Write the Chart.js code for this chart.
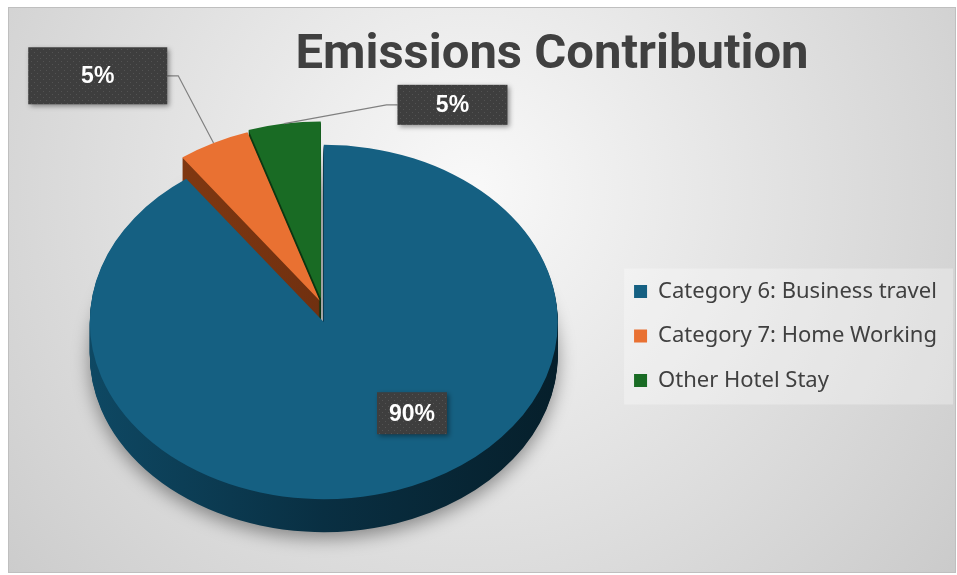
<!DOCTYPE html>
<html>
<head>
<meta charset="utf-8">
<script src="https://cdn.jsdelivr.net/npm/chart.js@4.4.1/dist/chart.umd.min.js"></script>
<style>
  html, body { margin: 0; padding: 0; background: #fff; }
  #wrap { width: 957px; height: 575px; }
</style>
</head>
<body>
<div id="wrap"><canvas id="emissions"></canvas></div>
<script>
const categories = ['Category 6: Business travel', 'Category 7: Home Working', 'Other Hotel Stay'];
const shares = [90, 5, 5];
const percentLabels = ['90%', '5%', '5%'];
const chartTitle = 'Emissions Contribution';

// look of the 3d pie
const topColours = ['#156082', '#e97132', '#196b24'];
const sideColours = [['#0e4863', '#092f42', '#061f2b'], ['#8a3d12', '#703010', '#5a260a'], ['#0f4416', '#0b3410', '#08290c']];
const explodeBy = [[0, 0], [-4, -28], [-3, -31]];  // pulled-out slices (x, y before tilt)
const tilt = 0.757;            // vertical squash
const depth = 33;              // edge thickness
const lift = -14;              // pie sits a bit higher than the legend middle
// data label boxes: centre relative to pie centre (radius units) and size in px
const labelPos = [[0.377, 0.515], [-0.966, -1.39], [0.55, -1.226]];
const labelBox = [[70, 42], [139, 57], [110, 40]];

function paintArc(ctx, arc, fill) {
    const copy = Object.assign(Object.create(Chart.ArcElement.prototype),
        arc.getProps(['x', 'y', 'startAngle', 'endAngle', 'innerRadius', 'outerRadius', 'circumference'], true));
    copy.options = Object.assign({}, arc.options, { backgroundColor: fill, borderWidth: 0, offset: 0 });
    copy.draw(ctx);
}

function dotPattern(ctx) {
    const c = document.createElement('canvas');
    c.width = 6; c.height = 6;
    const p = c.getContext('2d');
    p.fillStyle = '#3e3e3e';
    p.fillRect(0, 0, 6, 6);
    p.fillStyle = '#535353';
    p.fillRect(1, 1, 1, 1);
    p.fillRect(4, 4, 1, 1);
    return ctx.createPattern(c, 'repeat');
}

const backdrop = {
    id: 'backdrop',
    beforeDraw(chart) {
        const { ctx, width, height } = chart;
        ctx.save();
        ctx.fillStyle = '#ffffff';
        ctx.fillRect(0, 0, width, height);
        const g = ctx.createRadialGradient(470, 190, 0, 470, 190, 640);
        g.addColorStop(0, '#f9f9f9');
        g.addColorStop(1, '#c9c9c9');
        ctx.fillStyle = g;
        ctx.fillRect(8.5, 7.5, width - 10, height - 10);
        ctx.strokeStyle = '#bfbfbf';
        ctx.lineWidth = 1;
        ctx.strokeRect(8.5, 7.5, width - 10, height - 10);

        // pale panel behind the legend
        const boxes = chart.legend.legendHitBoxes;
        const l = Math.min(...boxes.map(b => b.left)) - 10;
        const t = Math.min(...boxes.map(b => b.top)) - 12;
        const r = Math.max(...boxes.map(b => b.left + b.width)) + 16;
        const b = Math.max(...boxes.map(b => b.top + b.height)) + 13;
        ctx.fillStyle = 'rgba(255,255,255,0.3)';
        ctx.fillRect(l, t, r - l, b - t);

        ctx.fillStyle = '#404040';
        ctx.font = 'bold 49px Roboto';
        ctx.textAlign = 'center';
        ctx.textBaseline = 'middle';
        ctx.fillText(chartTitle, 552, 56);
        ctx.restore();
    }
};

const pie3d = {
    id: 'pie3d',
    beforeDatasetsDraw(chart) {
        const ctx = chart.ctx;
        const arcs = chart.getDatasetMeta(0).data;
        const cx = arcs[0].x, cy = arcs[0].y, R = arcs[0].outerRadius;
        const place = (i, down) => {
            ctx.translate(cx, cy + lift + down);
            ctx.scale(1, tilt);
            ctx.translate(-cx, -cy);
            ctx.translate(explodeBy[i][0], explodeBy[i][1]);
        };
        // edge, stacked from the bottom up
        for (let d = depth; d >= 1; d--) {
            arcs.forEach((arc, i) => {
                ctx.save();
                if (d === depth) {
                    ctx.shadowColor = 'rgba(0,0,0,0.4)';
                    ctx.shadowBlur = 18;
                    ctx.shadowOffsetY = 6;
                }
                place(i, d);
                const g = ctx.createLinearGradient(cx - R, 0, cx + R, 0);
                g.addColorStop(0, sideColours[i][0]);
                g.addColorStop(0.5, sideColours[i][1]);
                g.addColorStop(1, sideColours[i][2]);
                paintArc(ctx, arc, g);
                ctx.restore();
            });
        }
        // top faces
        arcs.forEach((arc, i) => {
            ctx.save();
            place(i, 0);
            paintArc(ctx, arc, topColours[i]);
            ctx.restore();
        });
        return false;
    },
    afterDraw(chart) {
        const ctx = chart.ctx;
        const arcs = chart.getDatasetMeta(0).data;
        const cx = arcs[0].x, cy = arcs[0].y + lift;
        const pattern = dotPattern(ctx);
        arcs.forEach((arc, i) => {
            const R = arc.outerRadius;
            const bx = cx + labelPos[i][0] * R;
            const by = cy + labelPos[i][1] * R * tilt;
            const [w, h] = labelBox[i];
            ctx.save();
            if (explodeBy[i][1] !== 0) {
                const mid = (arc.startAngle + arc.endAngle) / 2;
                const ax = cx + Math.cos(mid) * R + explodeBy[i][0];
                const ay = cy + (Math.sin(mid) * R + explodeBy[i][1]) * tilt;
                const dir = ax < bx ? -1 : 1;
                const sx = bx + dir * w / 2;
                ctx.strokeStyle = '#808080';
                ctx.lineWidth = 1.2;
                ctx.beginPath();
                ctx.moveTo(sx, by);
                ctx.lineTo(sx + dir * 11, by);
                ctx.lineTo(ax, ay);
                ctx.stroke();
            }
            ctx.shadowColor = 'rgba(0,0,0,0.4)';
            ctx.shadowBlur = 5;
            ctx.shadowOffsetX = 2;
            ctx.shadowOffsetY = 2;
            ctx.fillStyle = pattern;
            ctx.fillRect(bx - w / 2, by - h / 2, w, h);
            ctx.shadowColor = 'transparent';
            ctx.fillStyle = '#ffffff';
            ctx.font = 'bold 23px "Liberation Sans"';
            ctx.textAlign = 'center';
            ctx.textBaseline = 'middle';
            ctx.fillText(percentLabels[i], bx, by + 1);
            ctx.restore();
        });
    }
};

const ctx = document.getElementById('emissions').getContext('2d');
const emissionsChart = new Chart(ctx, {
    type: 'pie',
    data: {
        labels: categories,
        datasets: [{
            label: 'Emissions',
            data: shares,
            backgroundColor: topColours,
            borderWidth: 0,
            radius: 234,
            clip: false
        }]
    },
    options: {
        responsive: true,
        maintainAspectRatio: false,
        animation: false,
        layout: {
            padding: { left: 36, right: 10, top: 100, bottom: 3 }
        },
        plugins: {
            title: { display: false },
            tooltip: { enabled: false },
            legend: {
                display: true,
                position: 'right',
                labels: {
                    color: '#404040',
                    font: { family: 'Noto Sans', size: 22 },
                    boxWidth: 13,
                    boxHeight: 13,
                    padding: 22.5
                }
            }
        }
    },
    plugins: [backdrop, pie3d]
});
</script>
</body>
</html>
